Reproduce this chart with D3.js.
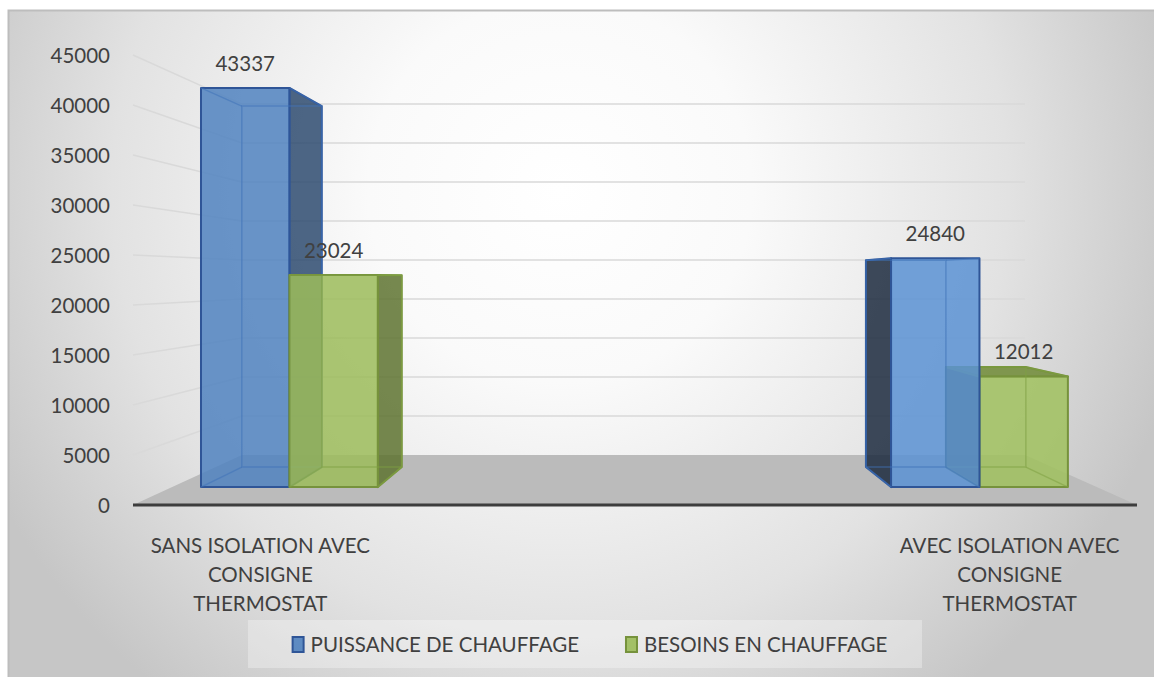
<!DOCTYPE html>
<html>
<head>
<meta charset="utf-8">
<script src="https://cdn.jsdelivr.net/npm/d3@7"></script>
<style>
  body { margin: 0; background: #ffffff; }
  svg text { font-family: Lato, "Open Sans", sans-serif; fill: #404040; }
</style>
</head>
<body>
<svg id="chart" width="1154" height="677"></svg>
<script>
// ---- data ----
const categories = [
  "SANS ISOLATION AVEC CONSIGNE THERMOSTAT",
  "AVEC ISOLATION AVEC CONSIGNE THERMOSTAT"
];
const categoryLines = [
  ["SANS ISOLATION AVEC", "CONSIGNE", "THERMOSTAT"],
  ["AVEC ISOLATION AVEC", "CONSIGNE", "THERMOSTAT"]
];
const seriesNames = ["PUISSANCE DE CHAUFFAGE", "BESOINS EN CHAUFFAGE"];
const puissanceValues = [43337, 24840];
const besoinsValues = [23024, 12012];
const yTickValues = [0, 5000, 10000, 15000, 20000, 25000, 30000, 35000, 40000, 45000];

// ---- styling ----
// front faces brighten slightly from left to right (light coming from the right)
const seriesStyle = {
  "PUISSANCE DE CHAUFFAGE": {
    front: ["#4F81BE", "#5E95D8"], right: "#2E4B70", left: "#1C2A3E", top: "#4A79B3",
    stroke: "#2F5597", edge: "#3F73B8"
  },
  "BESOINS EN CHAUFFAGE": {
    front: ["#9BBB59", "#A0C25E"], right: "#5E7330", left: "#4A5A25", top: "#6E8A35",
    stroke: "#76923C", edge: "#80A044"
  }
};
const faceOpacity = 0.85;
const fontSize = "20.5px";

// ---- 3D frame ----
const svg = d3.select("#chart");
const vp = [628, 278];                  // vanishing point
const depth = { front: 1, barFront: 0.921, barBack: 0.833, wall: 0.78 };

const x = d3.scalePoint().domain(categories).range([133, 1137]).padding(0.17);
const xs = d3.scaleBand().domain(seriesNames).range([-96, 96]);
const y = d3.scaleLinear().domain([0, 45000]).range([505, 55]);
const [plotX0, plotX1] = x.range();

// perspective projection of a front-plane point (X, value) to depth scale s
function P(X, v, s) {
  return [vp[0] + (X - vp[0]) * s, vp[1] + (y(v) - vp[1]) * s];
}
const poly = pts => pts.map(p => p.join(",")).join(" ");

// ---- background ----
const defs = svg.append("defs");
const bg = defs.append("radialGradient").attr("id", "bg")
  .attr("gradientUnits", "userSpaceOnUse")
  .attr("cx", 560).attr("cy", 190).attr("r", 640);
[[0, "#FFFFFF"], [0.3, "#FAFAFA"], [0.7, "#E2E2E2"], [1, "#C6C6C6"]]
  .forEach(([o, c]) => bg.append("stop").attr("offset", o).attr("stop-color", c));

svg.append("rect")
  .attr("x", 8.5).attr("y", 10.5).attr("width", 1160).attr("height", 680)
  .attr("fill", "url(#bg)").attr("stroke", "#BDBDBD").attr("stroke-width", 2);

// ---- walls: gridlines on side and back ----
const grid = svg.append("g").attr("stroke", "#D9D9D9").attr("stroke-width", 1.5).attr("fill", "none");
yTickValues.filter(v => v > 0).forEach(v => {
  const a = P(plotX0, v, depth.front), b = P(plotX0, v, depth.wall), c = P(plotX1, v, depth.wall);
  grid.append("polyline").attr("points", poly([a, b, c]));
});

// ---- floor ----
svg.append("polygon")
  .attr("points", poly([
    P(plotX0, 0, depth.front), P(plotX1, 0, depth.front),
    P(plotX1, 0, depth.wall), P(plotX0, 0, depth.wall)
  ]))
  .attr("fill", "#BBBBBB");
svg.append("line")
  .attr("x1", P(plotX0, 0, 1)[0]).attr("x2", P(plotX1, 0, 1)[0])
  .attr("y1", y(0)).attr("y2", y(0))
  .attr("stroke", "#3D3D3D").attr("stroke-width", 3);

// ---- y axis labels ----
const yAxis = svg.append("g")
  .attr("transform", "translate(110,0)")
  .call(d3.axisLeft(y).tickValues(yTickValues).tickFormat(d3.format("d")).tickSize(0).tickPadding(0));
yAxis.select(".domain").remove();
yAxis.attr("font-family", null).attr("font-size", null);
yAxis.selectAll("text").style("font-size", fontSize).attr("dy", "0.35em");

// ---- bars ----
const bars = [];
categories.forEach((cat, i) => {
  bars.push({ cat, series: seriesNames[0], value: puissanceValues[i] });
  bars.push({ cat, series: seriesNames[1], value: besoinsValues[i] });
});
bars.forEach(b => {
  b.X0 = x(b.cat) + xs(b.series);
  b.X1 = b.X0 + xs.bandwidth();
});
// paint bars farthest from the vanishing point first
bars.sort((a, b) => Math.abs((b.X0 + b.X1) / 2 - vp[0]) - Math.abs((a.X0 + a.X1) / 2 - vp[0]));

const light = d3.scaleLinear().domain([plotX0, plotX1]).range([0, 1]).clamp(true);

const barLayer = svg.append("g");
bars.forEach(b => {
  const st = seriesStyle[b.series];
  const g = barLayer.append("g");
  const sf = depth.barFront, sb = depth.barBack;
  const fbl = P(b.X0, 0, sf), fbr = P(b.X1, 0, sf), ftl = P(b.X0, b.value, sf), ftr = P(b.X1, b.value, sf);
  const bbl = P(b.X0, 0, sb), bbr = P(b.X1, 0, sb), btl = P(b.X0, b.value, sb), btr = P(b.X1, b.value, sb);

  const face = (pts, fill) => g.append("polygon").attr("points", poly(pts))
    .attr("fill", fill).attr("fill-opacity", faceOpacity)
    .attr("stroke", st.stroke).attr("stroke-width", 2).attr("stroke-linejoin", "round");

  // side facing the vanishing point
  if (b.X1 <= vp[0]) face([ftr, btr, bbr, fbr], st.right);
  else face([ftl, btl, bbl, fbl], st.left);
  // top face when seen from above
  if (ftl[1] > btl[1] + 0.5) face([ftl, ftr, btr, btl], st.top);
  const frontFill = d3.interpolateRgb(st.front[0], st.front[1])(light((b.X0 + b.X1) / 2));
  face([ftl, ftr, fbr, fbl], frontFill);

  // hidden edges showing through the translucent faces
  const hidden = g.append("g").attr("stroke", st.edge).attr("stroke-width", 1.5)
    .attr("stroke-opacity", 0.55).attr("fill", "none");
  hidden.append("polygon").attr("points", poly([btl, btr, bbr, bbl]));
  hidden.append("line").attr("x1", fbl[0]).attr("y1", fbl[1]).attr("x2", bbl[0]).attr("y2", bbl[1]);
  hidden.append("line").attr("x1", fbr[0]).attr("y1", fbr[1]).attr("x2", bbr[0]).attr("y2", bbr[1]);
  hidden.append("line").attr("x1", ftl[0]).attr("y1", ftl[1]).attr("x2", btl[0]).attr("y2", btl[1]);
  hidden.append("line").attr("x1", ftr[0]).attr("y1", ftr[1]).attr("x2", btr[0]).attr("y2", btr[1]);
});

// ---- data labels ----
bars.forEach(b => {
  const top = P((b.X0 + b.X1) / 2, b.value, depth.barFront);
  svg.append("text")
    .attr("x", top[0]).attr("y", top[1] - 17)
    .attr("text-anchor", "middle")
    .style("font-size", fontSize)
    .text(b.value);
});

// ---- category labels ----
categories.forEach((cat, i) => {
  const t = svg.append("text")
    .attr("text-anchor", "middle")
    .style("font-size", fontSize);
  categoryLines[i].forEach((line, k) => {
    t.append("tspan").attr("x", x(cat)).attr("y", y(0) + 48 + k * 29).text(line);
  });
});

// ---- legend ----
const legend = svg.append("g");
legend.append("rect")
  .attr("x", 248).attr("y", 620).attr("width", 674).attr("height", 48)
  .attr("fill", "#FFFFFF").attr("fill-opacity", 0.3);
const items = legend.selectAll("g.item").data(seriesNames).join("g").attr("class", "item");
items.append("rect")
  .attr("width", 11).attr("height", 15).attr("y", 637)
  .attr("fill", d => seriesStyle[d].front[0]).attr("fill-opacity", 0.9)
  .attr("stroke", d => seriesStyle[d].stroke).attr("stroke-width", 2);
items.append("text")
  .attr("y", 651.5)
  .style("font-size", fontSize)
  .text(d => d);
// lay the legend entries out side by side, centred in the box
const gap = 47, markerW = 18;
const widths = items.select("text").nodes().map(n => n.getComputedTextLength());
const total = d3.sum(widths) + markerW * widths.length + gap * (widths.length - 1);
let cursor = 590 - total / 2;
items.each(function (d, i) {
  const it = d3.select(this);
  it.select("rect").attr("x", cursor);
  it.select("text").attr("x", cursor + markerW);
  cursor += markerW + widths[i] + gap;
});
</script>
</body>
</html>
